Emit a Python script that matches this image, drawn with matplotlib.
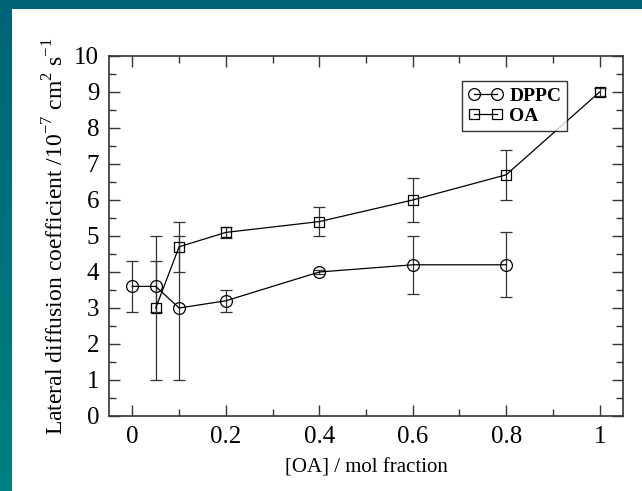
import numpy as np
import matplotlib
matplotlib.use("Agg")
import matplotlib.pyplot as plt
from matplotlib.ticker import MultipleLocator
from matplotlib.lines import Line2D

# data
dppc_x = [0, 0.05, 0.1, 0.2, 0.4, 0.6, 0.8]
dppc_y = [3.6, 3.6, 3.0, 3.2, 4.0, 4.2, 4.2]
dppc_err = [0.7, 0.7, 2.0, 0.3, 0.05, 0.8, 0.9]

oa_x = [0.05, 0.1, 0.2, 0.4, 0.6, 0.8, 1.0]
oa_y = [3.0, 4.7, 5.1, 5.4, 6.0, 6.7, 9.0]
oa_err = [2.0, 0.7, 0.15, 0.4, 0.6, 0.7, 0.1]

x_ticks = [0, 0.2, 0.4, 0.6, 0.8, 1]
x_labels = ["0", "0.2", "0.4", "0.6", "0.8", "1"]

plt.rcParams['font.family'] = ['Liberation Serif', 'DejaVu Serif']
plt.rcParams['mathtext.fontset'] = 'custom'
plt.rcParams['mathtext.rm'] = 'Liberation Serif'

W, H = 642, 491
fig = plt.figure(figsize=(W / 100, H / 100), dpi=100)

# teal frame on left and top
left = fig.add_axes([0, 0, 12 / W, 1])
grad = np.linspace(0, 1, 256).reshape(-1, 1)
c_top = np.array([0, 100, 120]) / 255
c_bot = np.array([0, 128, 128]) / 255
img = c_top[None, None, :] * (1 - grad[:, :, None]) + c_bot[None, None, :] * grad[:, :, None]
left.imshow(img, aspect='auto', extent=[0, 1, 0, 1])
left.axis('off')
top = fig.add_axes([0, 1 - 9 / H, 1, 9 / H])
top.set_facecolor(c_top)
top.set_xticks([])
top.set_yticks([])
for s in top.spines.values():
    s.set_visible(False)

ax = fig.add_axes([109 / W, 75 / H, 514 / W, 360 / H])

line_kw = dict(color='black', lw=0.9, mfc='none', mec='black', mew=0.9,
               ecolor='#333333', elinewidth=0.9, capsize=4.5, capthick=0.9)
ax.errorbar(dppc_x, dppc_y, yerr=dppc_err, marker='o', ms=8.5, **line_kw)
ax.errorbar(oa_x, oa_y, yerr=oa_err, marker='s', ms=7, **line_kw)

ax.set_xlim(-0.05, 1.05)
ax.set_ylim(0, 10)
ax.set_xticks(x_ticks)
ax.set_xticklabels(x_labels)
ax.set_yticks(range(0, 11))
ax.xaxis.set_minor_locator(MultipleLocator(0.1))
ax.yaxis.set_minor_locator(MultipleLocator(0.5))
ax.tick_params(which='both', direction='in', top=True, right=True, labelsize=18, color='#333333')
ax.tick_params(which='major', length=8, width=1, pad=7)
ax.tick_params(which='minor', length=5, width=1)
for s in ax.spines.values():
    s.set_color('#333333')
    s.set_linewidth(1.2)

ax.set_xlabel('[OA] / mol fraction', fontsize=15, labelpad=8)
ax.set_ylabel(r'Lateral diffusion coefficient /10$^{-7}$ cm$^{2}$ s$^{-1}$', fontsize=17, labelpad=4)

handles = [
    Line2D([], [], color='black', lw=0.9, marker='o', ms=8.5, mfc='none', mec='black', mew=0.9),
    Line2D([], [], color='black', lw=0.9, marker='s', ms=7, mfc='none', mec='black', mew=0.9),
]
leg = ax.legend(handles, ['DPPC', 'OA'], loc='upper right', bbox_to_anchor=(0.891, 0.93),
                borderaxespad=0, numpoints=2, handlelength=1.8, fontsize=14, frameon=True,
                fancybox=False, borderpad=0.3, handletextpad=0.3, labelspacing=0.15)
leg.get_frame().set_edgecolor('black')
leg.get_frame().set_linewidth(1.0)
for t in leg.get_texts():
    t.set_fontweight('bold')

fig.savefig('out.png', dpi=100)
